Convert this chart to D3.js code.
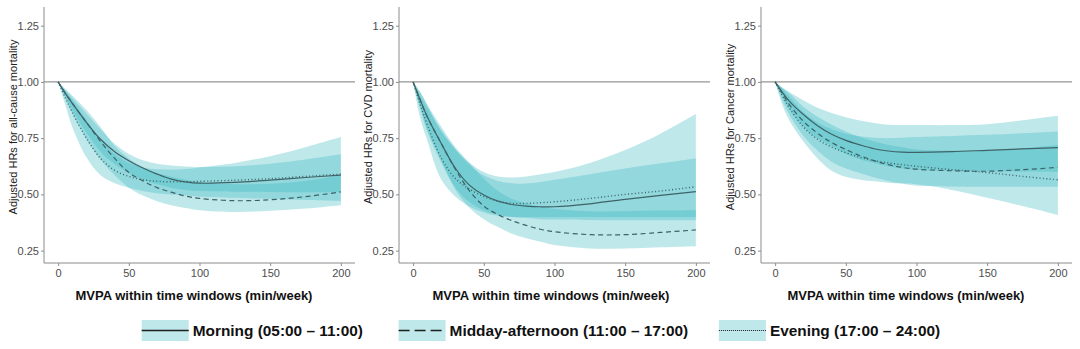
<!DOCTYPE html>
<html><head><meta charset="utf-8">
<script src="https://cdn.jsdelivr.net/npm/d3@7"></script>
<style>
html,body{margin:0;padding:0;background:#fff;}
svg{display:block;font-family:"Liberation Sans",Arial,Helvetica,sans-serif;}
</style></head>
<body><svg id="chart" width="1080" height="349"></svg>
<script>
// ---------- DATA ----------
const xValues = [0,5,10,20,30,40,50,60,70,80,90,100,125,150,175,200];
const xTicks = [0,50,100,150,200];
const yTicks = [0.25,0.50,0.75,1.00,1.25];
const seriesNames = ["Morning (05:00 \u2013 11:00)","Midday-afternoon (11:00 \u2013 17:00)","Evening (17:00 \u2013 24:00)"];
const yTitles = ["Adjusted HRs for all-cause mortality","Adjusted HRs for CVD mortality","Adjusted HRs for Cancer mortality"];
const xTitle = "MVPA within time windows (min/week)";

// All-cause mortality
const allMorning   = [1,0.95,0.905,0.82,0.745,0.69,0.65,0.617,0.59,0.568,0.556,0.55,0.553,0.563,0.575,0.586];
const allMorningLo = [1,0.935,0.875,0.775,0.69,0.635,0.595,0.565,0.545,0.53,0.52,0.515,0.512,0.511,0.51,0.51];
const allMorningHi = [1,0.965,0.93,0.86,0.79,0.725,0.68,0.652,0.636,0.628,0.624,0.622,0.625,0.636,0.655,0.678];
const allMidday    = [1,0.95,0.905,0.82,0.735,0.66,0.597,0.56,0.53,0.51,0.493,0.482,0.472,0.476,0.49,0.511];
const allMiddayLo  = [1,0.93,0.86,0.745,0.655,0.585,0.53,0.495,0.47,0.452,0.44,0.43,0.422,0.427,0.437,0.452];
const allMiddayHi  = [1,0.97,0.94,0.875,0.80,0.715,0.66,0.62,0.595,0.578,0.565,0.555,0.545,0.547,0.56,0.585];
const allEvening   = [1,0.93,0.865,0.75,0.66,0.607,0.58,0.565,0.558,0.556,0.556,0.558,0.563,0.57,0.58,0.59];
const allEveningLo = [1,0.90,0.80,0.665,0.585,0.55,0.53,0.515,0.505,0.5,0.495,0.49,0.485,0.48,0.475,0.47];
const allEveningHi = [1,0.96,0.92,0.83,0.745,0.68,0.64,0.62,0.612,0.61,0.613,0.62,0.64,0.67,0.71,0.755];

// CVD mortality
const cvdMorning   = [1,0.92,0.845,0.725,0.615,0.54,0.497,0.47,0.455,0.448,0.445,0.445,0.458,0.478,0.496,0.512];
const cvdMorningLo = [1,0.88,0.78,0.64,0.53,0.465,0.43,0.41,0.40,0.395,0.39,0.388,0.386,0.385,0.385,0.385];
const cvdMorningHi = [1,0.94,0.885,0.785,0.70,0.63,0.585,0.56,0.55,0.548,0.555,0.565,0.59,0.615,0.638,0.66];
const cvdMidday    = [1,0.92,0.845,0.725,0.61,0.515,0.448,0.41,0.383,0.362,0.345,0.334,0.321,0.321,0.331,0.342];
const cvdMiddayLo  = [1,0.89,0.79,0.65,0.52,0.44,0.39,0.355,0.325,0.305,0.29,0.275,0.26,0.26,0.265,0.27];
const cvdMiddayHi  = [1,0.955,0.90,0.80,0.71,0.64,0.57,0.515,0.48,0.46,0.445,0.435,0.425,0.425,0.428,0.43];
const cvdEvening   = [1,0.90,0.81,0.66,0.57,0.523,0.49,0.47,0.46,0.46,0.463,0.467,0.482,0.50,0.515,0.534];
const cvdEveningLo = [1,0.84,0.74,0.565,0.49,0.445,0.42,0.405,0.40,0.40,0.40,0.40,0.40,0.40,0.40,0.40];
const cvdEveningHi = [1,0.955,0.895,0.78,0.70,0.64,0.60,0.58,0.575,0.58,0.59,0.60,0.64,0.697,0.77,0.857];

// Cancer mortality
const canMorning   = [1,0.955,0.915,0.855,0.805,0.767,0.74,0.72,0.703,0.693,0.688,0.687,0.69,0.696,0.702,0.708];
const canMorningLo = [1,0.935,0.88,0.80,0.75,0.715,0.68,0.655,0.64,0.625,0.615,0.61,0.605,0.603,0.602,0.60];
const canMorningHi = [1,0.975,0.955,0.918,0.885,0.862,0.843,0.828,0.817,0.81,0.808,0.808,0.808,0.812,0.83,0.85];
const canMidday    = [1,0.95,0.90,0.825,0.772,0.73,0.70,0.672,0.65,0.632,0.62,0.612,0.605,0.603,0.61,0.62];
const canMiddayLo  = [1,0.92,0.855,0.76,0.695,0.645,0.615,0.595,0.575,0.56,0.548,0.538,0.535,0.534,0.534,0.534];
const canMiddayHi  = [1,0.975,0.95,0.89,0.845,0.81,0.78,0.755,0.735,0.72,0.71,0.70,0.695,0.695,0.705,0.72];
const canEvening   = [1,0.94,0.885,0.80,0.745,0.71,0.685,0.665,0.65,0.64,0.632,0.625,0.61,0.597,0.58,0.565];
const canEveningLo = [1,0.90,0.83,0.735,0.66,0.605,0.578,0.565,0.558,0.552,0.548,0.545,0.52,0.485,0.448,0.408];
const canEveningHi = [1,0.97,0.935,0.865,0.82,0.79,0.77,0.758,0.752,0.75,0.752,0.755,0.76,0.765,0.772,0.78];

// ---------- LAYOUT ----------
const panelLefts = [44, 399, 761];
const titleCenters = [194, 551, 906];
const panelW = 311, plotTop = 7, plotBottom = 263;
const fillColor = "rgb(42,178,188)", fillOpacity = 0.3;
const lineColor = "#3e6367";
const dashes = [null, "5,3.5", "1,2.4"];
const smooth = d3.curveCatmullRom.alpha(0.5);

const panelSeries = [
  [[allMorning,allMorningLo,allMorningHi],[allMidday,allMiddayLo,allMiddayHi],[allEvening,allEveningLo,allEveningHi]],
  [[cvdMorning,cvdMorningLo,cvdMorningHi],[cvdMidday,cvdMiddayLo,cvdMiddayHi],[cvdEvening,cvdEveningLo,cvdEveningHi]],
  [[canMorning,canMorningLo,canMorningHi],[canMidday,canMiddayLo,canMiddayHi],[canEvening,canEveningLo,canEveningHi]]
];

const svg = d3.select("#chart");
const y = d3.scaleLinear().domain([0.195, 1.333]).range([plotBottom, plotTop]);

panelSeries.forEach((series, p) => {
  const left = panelLefts[p];
  const x = d3.scaleLinear().domain([-10, 210]).range([left, left + panelW]);
  const g = svg.append("g");

  series.forEach(s => {
    const pts = xValues.map((xv, i) => ({x: xv, lo: s[1][i], hi: s[2][i]}));
    g.append("path").datum(pts)
      .attr("d", d3.area().x(d => x(d.x)).y0(d => y(d.lo)).y1(d => y(d.hi)).curve(smooth))
      .attr("fill", fillColor).attr("fill-opacity", fillOpacity);
  });

  g.append("line").attr("x1", left).attr("x2", left + panelW)
    .attr("y1", y(1)).attr("y2", y(1)).attr("stroke", "#7a7a7a").attr("stroke-width", 1);

  series.forEach((s, k) => {
    const pts = xValues.map((xv, i) => ({x: xv, v: s[0][i]}));
    const path = g.append("path").datum(pts)
      .attr("d", d3.line().x(d => x(d.x)).y(d => y(d.v)).curve(smooth))
      .attr("fill", "none").attr("stroke", lineColor).attr("stroke-width", k === 2 ? 1.4 : 1.2);
    if (dashes[k]) path.attr("stroke-dasharray", dashes[k]);
  });

  const xAxis = g.append("g").attr("transform", `translate(0,${plotBottom})`)
    .call(d3.axisBottom(x).tickValues(xTicks).tickSize(3).tickPadding(3).tickFormat(d3.format("d")));
  const yAxis = g.append("g").attr("transform", `translate(${left},0)`)
    .call(d3.axisLeft(y).tickValues(yTicks).tickSize(3).tickPadding(2).tickFormat(d3.format(".2f")));
  [xAxis, yAxis].forEach(a => {
    a.select(".domain").attr("stroke", "#8c8c8c").attr("stroke-width", 1);
    a.selectAll(".tick line").attr("stroke", "#8c8c8c");
    a.selectAll(".tick text").attr("fill", "#4d4d4d").style("font-size", "11px")
      .style("font-family", '"Liberation Sans",Arial,sans-serif');
  });
  yAxis.select(".domain").attr("d", `M0,${plotTop}V${plotBottom}`);
  xAxis.select(".domain").attr("d", `M${left},0H${left + panelW}`);

  g.append("text").attr("x", titleCenters[p]).attr("y", 300)
    .attr("text-anchor", "middle").style("font-size", "13px").style("font-weight", "bold")
    .attr("fill", "#111").text(xTitle);
  g.append("text").attr("transform", `translate(${left - 31},127) rotate(-90)`)
    .attr("text-anchor", "middle").attr("dominant-baseline", "central")
    .style("font-size", "11px").attr("fill", "#222").text(yTitles[p]);
});

// ---------- LEGEND ----------
const keyLefts = [141.7, 398.6, 718.9];
const keyW = 47, keyTop = 320, keyH = 21;
const legendDashes = [null, "11,5", "1,1"];
seriesNames.forEach((name, k) => {
  const lg = svg.append("g");
  lg.append("rect").attr("x", keyLefts[k]).attr("y", keyTop).attr("width", keyW).attr("height", keyH)
    .attr("fill", fillColor).attr("fill-opacity", fillOpacity);
  const ln = lg.append("line").attr("x1", keyLefts[k]).attr("x2", keyLefts[k] + keyW)
    .attr("y1", keyTop + keyH / 2).attr("y2", keyTop + keyH / 2)
    .attr("stroke", "#1e1e1e").attr("stroke-width", k === 2 ? 1.2 : 1.7);
  if (legendDashes[k]) ln.attr("stroke-dasharray", legendDashes[k]);
  lg.append("text").attr("x", keyLefts[k] + keyW + 4).attr("y", keyTop + keyH / 2)
    .attr("dominant-baseline", "central").style("font-size", "15.4px").style("font-weight", "bold")
    .attr("fill", "#111").text(name);
});
</script></body></html>
